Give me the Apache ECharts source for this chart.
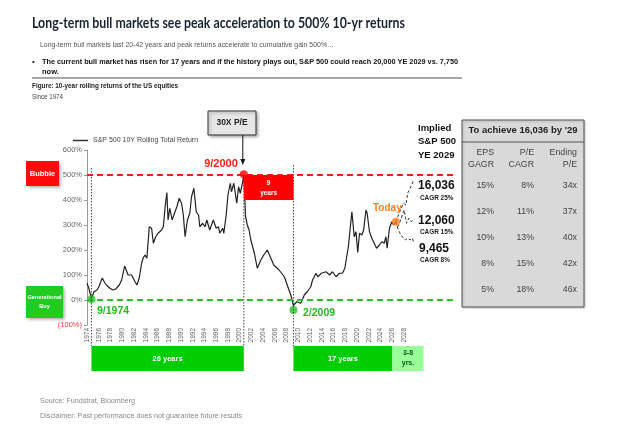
<!DOCTYPE html>
<html><head><meta charset="utf-8">
<script src="https://cdn.jsdelivr.net/npm/echarts@6/dist/echarts.min.js"></script>
<style>html,body{margin:0;padding:0;background:#fff}#c{width:624px;height:426px}</style>
</head><body><div id="c"></div>
<script>
// ---------- data ----------
const dates = [1974.0,1974.3,1974.75,1975.2,1975.7,1976.0,1976.6,1977.0,1977.3,1977.9,1978.4,1978.9,1979.2,1979.5,1979.9,1980.4,1980.7,1981.0,1981.3,1981.6,1981.9,1982.2,1982.5,1982.9,1983.3,1983.6,1983.9,1984.2,1984.6,1985.0,1985.3,1985.7,1986.1,1986.4,1986.7,1987.0,1987.3,1987.6,1987.8,1988.1,1988.5,1988.9,1989.3,1989.7,1990.1,1990.4,1990.7,1991.1,1991.5,1991.8,1992.2,1992.6,1993.0,1993.2,1993.7,1994.1,1994.4,1994.9,1995.5,1996.0,1996.4,1996.6,1997.1,1997.3,1997.7,1998.0,1998.4,1998.6,1999.0,1999.5,1999.8,2000.1,2000.4,2000.7,2001.0,2001.3,2001.6,2001.9,2002.5,2003.0,2003.6,2004.1,2004.7,2005.2,2005.8,2006.7,2007.6,2008.2,2008.7,2009.15,2009.7,2010.4,2011.0,2011.5,2012.1,2012.4,2013.0,2013.3,2013.9,2014.7,2015.3,2015.8,2016.4,2017.0,2017.5,2017.9,2018.5,2018.9,2019.1,2019.5,2019.8,2020.1,2020.4,2020.8,2021.1,2021.5,2021.7,2022.1,2022.5,2022.9,2023.3,2023.8,2024.2,2024.6,2024.9,2025.1,2025.5,2025.9,2026.2,2026.6];
const returns = [67,48,6,33,40,52,88,70,60,47,40,44,38,60,80,136,133,100,104,100,93,72,60,88,147,170,180,167,293,287,227,253,267,260,280,293,373,430,320,367,320,347,373,407,387,340,253,320,347,413,447,353,340,293,307,293,320,280,320,287,293,267,287,267,340,420,467,433,467,387,453,427,460,500,333,300,280,240,187,127,160,180,200,173,140,120,93,53,20,-22,-7,-13,20,33,53,80,107,93,107,113,100,113,93,107,107,127,213,307,353,253,273,190,267,260,280,360,347,273,247,227,207,220,233,227,253,207,287,313,300,313];
const proj25Dates = [2026.6,2026.9,2027.2,2027.5,2027.9,2028.3,2028.6,2029.0,2029.3,2029.6];
const proj25 = [313,333,350,367,387,380,427,447,460,480];
const proj15Dates = [2026.6,2026.9,2027.3,2027.7,2028.0,2028.4,2028.8,2029.2,2029.6];
const proj15 = [313,293,313,340,360,307,327,313,320];
const proj8Dates = [2026.6,2026.9,2027.3,2027.7,2028.2,2028.6,2029.0,2029.4,2029.6];
const proj8 = [313,287,267,253,240,247,240,247,233];
const eventDates = [1974.75,2000.7,2009.15,2026.6];
const eventValues = [3,503,-40,313];
const eventColors = ['#22c322','#ff0000','#22c322','#ff7f1e'];
const projLabels = ['16,036','12,060','9,465'];
const projCagr = ['CAGR 25%','CAGR 15%','CAGR 8%'];
const periodStarts = [1974.75,2009.15,2026.0];
const periodEnds = [2000.7,2026.0,2031.3];
const periodLabels = ['26 years','17 years','3-8\nyrs.'];
const tableHead = ["To achieve 16,036 by '29"];
const colHeads = [['EPS','GAGR'],['P/E','CAGR'],['Ending','P/E']];
const epsCagr = ['15%','12%','10%','8%','5%'];
const peCagr = ['8%','11%','13%','15%','18%'];
const endingPE = ['34x','37x','40x','42x','46x'];

const zip = (a,b)=>a.map((x,i)=>[x,b[i]]);
const AR = '"Liberation Sans", Arial, sans-serif';
const chart = echarts.init(document.getElementById('c'));
const projLine = (d)=>({type:'line',data:d,symbol:'none',silent:true,lineStyle:{color:'#333',width:1,type:[3,2]},z:3});

chart.setOption({
  animation:false,
  textStyle:{fontFamily:AR},
  legend:{data:['S&P 500 10Y Rolling Total Return'],left:68,top:132,icon:'rect',itemWidth:15,itemHeight:1.5,itemGap:4,
    itemStyle:{color:'#333'},textStyle:{fontSize:7,color:'#444'}},
  grid:[{left:87,right:167,top:150,bottom:101}],
  xAxis:[{type:'value',min:1974,max:2037,interval:2,
    axisLine:{show:false},axisTick:{show:false},splitLine:{show:false},
    axisLabel:{rotate:90,fontSize:6.5,color:'#666',margin:3,formatter:v=>v<=2028?String(v):''}}],
  yAxis:[{type:'value',min:-100,max:600,interval:100,
    axisLine:{show:true,lineStyle:{color:'#999'}},axisTick:{show:true,length:3,lineStyle:{color:'#999'}},
    splitLine:{show:false},
    axisLabel:{fontSize:7.5,margin:5,color:v=>v<0?'#ff3b3b':'#666',formatter:v=>v<0?'('+Math.abs(v)+'%)':v+'%'}}],
  series:[
    {name:'S&P 500 10Y Rolling Total Return',type:'line',data:zip(dates,returns),symbol:'none',
      lineStyle:{color:'#222',width:1.2},itemStyle:{color:'#222'},z:4,
      markLine:{silent:true,symbol:'none',label:{show:false},
        data:[{yAxis:500,lineStyle:{color:'#ff1a1a',width:2,type:[6,4]}},
              {yAxis:0,lineStyle:{color:'#2dc22d',width:2,type:[6,4]}}]}},
    projLine(zip(proj25Dates,proj25)),
    projLine(zip(proj15Dates,proj15)),
    projLine(zip(proj8Dates,proj8)),
    {type:'scatter',data:eventDates.map((d,i)=>({value:[d,eventValues[i]],itemStyle:{color:eventColors[i]}})),
      symbolSize:8,z:6,silent:true}
  ]
});

// ---------- annotations ----------
const cv = document.createElement('canvas').getContext('2d');
function fitW(text,font,w){cv.font=font;return w/cv.measureText(text).width;}
function T(text,x,y,font,fill,align,w){
  return {type:'text',x:x,y:y,scaleX:w?fitW(text,font,w):1,z:100,
    style:{text:text,x:0,y:0,font:font,fill:fill,textAlign:align||'left',textVerticalAlign:'middle'}};
}
const P = (x,y)=>chart.convertToPixel({gridIndex:0},[x,y]);
const px = x=>P(x,0)[0];
const shadow = {shadowBlur:3,shadowColor:'rgba(0,0,0,0.35)',shadowOffsetX:1.5,shadowOffsetY:1.5};
const G = [];
const b = (s,f)=>'bold '+s+'px '+(f||AR);

// header
G.push(T('Long-term bull markets see peak acceleration to 500% 10-yr returns',32,23,b(15,'Lato'),'#1b2231','left',373));
G.push(T('Long-term bull markets last 20-42 years and peak returns accelerate to cumulative gain 500%…',40,45,'7.5px '+AR,'#555','left',294));
G.push(T('•',32,62,'8px '+AR,'#111'));
G.push(T('The current bull market has risen for 17 years and if the history plays out, S&P 500 could reach 20,000 YE 2029 vs. 7,750',42,62,b(7.5),'#111','left',416));
G.push(T('now.',42,71.5,b(7.5),'#111'));
G.push({type:'line',shape:{x1:32,y1:78,x2:462,y2:78},style:{stroke:'#8a8a8a',lineWidth:1.5},z:100});
G.push(T('Figure: 10-year rolling returns of the US equities',32,86,b(7),'#222','left',146));
G.push(T('Since 1974',32,97.5,'7px '+AR,'#444','left',31));

// left boxes
G.push({type:'rect',shape:{x:26,y:161,width:33,height:25},style:Object.assign({fill:'#ff0a0a'},shadow),z:90});
G.push(T('Bubble',42.5,173.5,b(7.5),'#fff','center'));
G.push({type:'rect',shape:{x:26,y:286,width:37,height:32},style:Object.assign({fill:'#1fcc1f'},shadow),z:90});
G.push(T('Generational',44.5,297,b(5.6),'#fff','center'));
G.push(T('Buy',44.5,306,b(5.6),'#fff','center'));

// vertical dotted lines
const vdot = (x,y1,y2)=>({type:'line',shape:{x1:x,y1:y1,x2:x,y2:y2},style:{stroke:'#444',lineWidth:1,lineDash:[1.5,1.5]},z:50});
G.push(vdot(px(1974.75),168,346));
G.push(vdot(px(2000.7),176,346));
G.push(vdot(px(2009.15),165,346));

// 9 years box
const b1 = P(2000.7,500), b2 = P(2009.15,400);
G.push({type:'rect',shape:{x:b1[0],y:b1[1],width:b2[0]-b1[0],height:b2[1]-b1[1]},style:{fill:'#ff0000'},z:60});
G.push(T('9',(b1[0]+b2[0])/2,183,b(6.5),'#fff','center'));
G.push(T('years',(b1[0]+b2[0])/2,193,b(6.5),'#fff','center'));

// 30X P/E box + arrow
const ax = px(2000.7)-1;
G.push({type:'rect',shape:{x:208,y:111,width:48,height:24},style:Object.assign({fill:'#e6e6e6',stroke:'#333',lineWidth:1},shadow),z:90});
G.push(T('30X P/E',232,123,b(8.5),'#222','center'));
G.push({type:'line',shape:{x1:ax,y1:135,x2:ax,y2:160},style:{stroke:'#111',lineWidth:1},z:90});
G.push({type:'polygon',shape:{points:[[ax-2.5,159],[ax+2.5,159],[ax,165]]},style:{fill:'#111'},z:90});

// event labels
G.push(T('9/2000',221,164,b(11),'#ff1a1a','center'));
G.push(T('9/1974',97,311,b(10.5),'#22bb22'));
G.push(T('2/2009',303,313,b(10.5),'#22bb22'));
G.push(T('Today',373,208,b(10),'#ff7f1e'));

// implied labels
G.push(T('Implied',418,128,b(9.5),'#111'));
G.push(T('S&P 500',418,141.5,b(9.5),'#111'));
G.push(T('YE 2029',418,155,b(9.5),'#111'));
const labY = [186,220.5,248.5], cagrY=[198,232,260.5];
projLabels.forEach((t,i)=>{
  G.push(T(t,i===2?419:418,labY[i],b(12),'#111'));
  G.push(T(projCagr[i],420,cagrY[i],b(6.4),'#222'));
});

// table
G.push({type:'rect',shape:{x:462,y:120,width:122,height:187},style:{fill:'#d9d9d9',stroke:'#555',lineWidth:1,shadowBlur:2,shadowColor:'rgba(0,0,0,0.2)',shadowOffsetX:1,shadowOffsetY:1},z:80});
G.push({type:'line',shape:{x1:462,y1:142,x2:584,y2:142},style:{stroke:'#555',lineWidth:1},z:81});
G.push(T(tableHead[0],523,131,b(8.5),'#222','center',109));
const colX=[494,534,577], headY=[153,164.5], rowY=[186,211.7,237.3,263.3,289.3];
colHeads.forEach((h,c)=>h.forEach((t,r)=>G.push(T(t,colX[c],headY[r],'8.8px '+AR,'#444','right'))));
[epsCagr,peCagr,endingPE].forEach((col,c)=>col.forEach((t,r)=>G.push(T(t,colX[c],rowY[r],'8.8px '+AR,'#444','right'))));

// period bars
periodStarts.forEach((s,i)=>{
  const x1=px(s), x2=px(periodEnds[i]);
  const light = i===2;
  G.push({type:'rect',shape:{x:x1,y:346,width:x2-x1,height:25},style:{fill:light?'#99ff99':'#00cc00'},z:70});
  if(light){
    G.push(T('3-8',(x1+x2)/2,353,b(7),'#0a5a0a','center'));
    G.push(T('yrs.',(x1+x2)/2,363,b(7),'#0a5a0a','center'));
  } else G.push(T(periodLabels[i],(x1+x2)/2,358.5,b(7.5),'#fff','center'));
});

// footer
G.push(T('Source: Fundstrat, Bloomberg',40,401,'7px '+AR,'#888','left',95));
G.push(T('Disclaimer: Past performance does not guarantee future results',40,416.5,'7px '+AR,'#888','left',202));

chart.setOption({graphic:{elements:G}});
</script></body></html>
